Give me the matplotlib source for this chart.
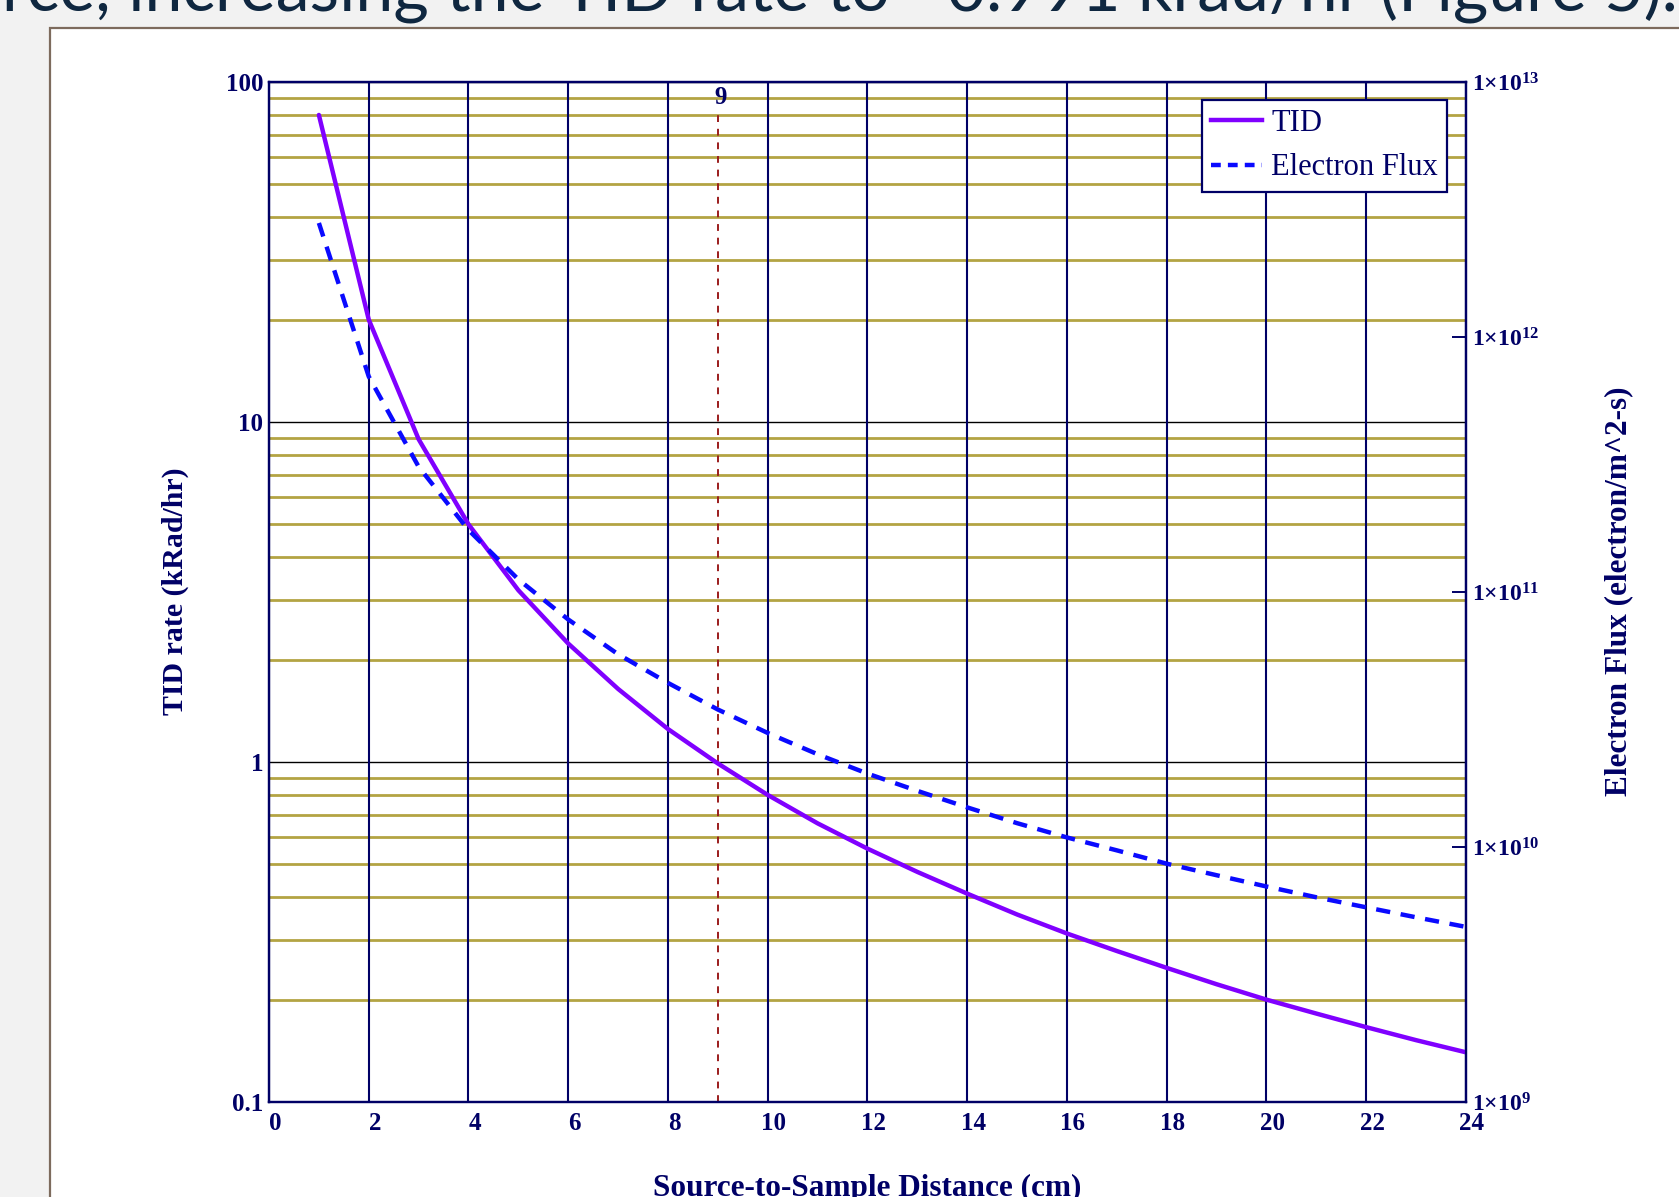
import numpy as np
import matplotlib
matplotlib.use('Agg')
import matplotlib.pyplot as plt
import matplotlib.transforms as mtransforms
from matplotlib.patches import Rectangle
from matplotlib.lines import Line2D
from matplotlib.ticker import LogLocator, NullFormatter, FixedLocator, FixedFormatter

# values
distance = [1, 2, 3, 4, 5, 6, 7, 8, 9, 10, 11, 12,
            13, 14, 15, 16, 17, 18, 19, 20, 21, 22, 23, 24]
tid_rate = [80, 20, 8.9, 5.0, 3.2, 2.23, 1.64, 1.25, 0.99, 0.80, 0.66, 0.556,
            0.475, 0.41, 0.356, 0.313, 0.278, 0.248, 0.222, 0.20, 0.182, 0.166, 0.152, 0.14]
electron_flux = [2.8e12, 7.0e11, 3.1e11, 1.75e11, 1.12e11, 7.8e10, 5.7e10, 4.4e10,
                 3.46e10, 2.8e10, 2.31e10, 1.94e10, 1.66e10, 1.43e10, 1.24e10, 1.09e10,
                 9.7e9, 8.6e9, 7.75e9, 7.0e9, 6.35e9, 5.8e9, 5.3e9, 4.86e9]
marker_x = 9

x_ticks = list(range(0, 25, 2))
y_ticks = [0.1, 1, 10, 100]
y_ticklabels = ['0.1', '1', '10', '100']
flux_ticks = [1e9, 1e10, 1e11, 1e12, 1e13]
flux_ticklabels = [r'$\mathbf{1{\times}10^{%d}}$' % e for e in [9, 10, 11, 12, 13]]

top_text = 'rce, increasing the TID rate to ~0.991 krad/hr (Figure 5).'

plt.rcParams['font.family'] = ['Liberation Serif', 'DejaVu Serif']
plt.rcParams['mathtext.fontset'] = 'custom'
plt.rcParams['mathtext.rm'] = 'Liberation Serif'
plt.rcParams['mathtext.bf'] = 'Liberation Serif:bold'

navy = '#000066'
olive = '#b3a443'
W, H = 1679, 1197

fig = plt.figure(figsize=(W / 100, H / 100), dpi=100, facecolor='#f2f2f2')

# white frame of the pasted picture
frame = Rectangle((50 / W, -0.05), 1.1, 1 - 28 / H + 0.05, transform=fig.transFigure,
                  facecolor='white', edgecolor='#7d6b5d', linewidth=1.6, zorder=0)
fig.add_artist(frame)

fig.text(2 / W, 1 - 12 / H, top_text, family=['Lato', 'DejaVu Sans'], fontsize=49,
         color='#0f2740', va='baseline', ha='left')

ax1 = fig.add_axes([269 / W, 1 - 1102 / H, (1466 - 269) / W, (1102 - 82) / H])
ax1.set_facecolor('white')
ax1.set_yscale('log')
ax1.set_xlim(0, 24)
ax1.set_ylim(0.1, 100)

ax1.xaxis.set_major_locator(FixedLocator(x_ticks))
ax1.set_xticklabels([str(t) for t in x_ticks])
ax1.yaxis.set_major_locator(FixedLocator(y_ticks))
ax1.yaxis.set_major_formatter(FixedFormatter(y_ticklabels))
ax1.yaxis.set_minor_locator(LogLocator(base=10, subs=range(2, 10)))
ax1.yaxis.set_minor_formatter(NullFormatter())
ax1.tick_params(which='both', length=0)
ax1.tick_params(axis='x', pad=7, labelsize=18, labelcolor=navy)
ax1.tick_params(axis='y', pad=4, labelsize=18, labelcolor=navy)
for lab in ax1.get_xticklabels() + ax1.get_yticklabels():
    lab.set_fontweight('bold')
offset = mtransforms.ScaledTranslation(6 / 100, 0, fig.dpi_scale_trans)
for lab in ax1.get_xticklabels():
    lab.set_transform(lab.get_transform() + offset)

ax1.grid(True, axis='x', which='major', color=navy, linewidth=1.5)
ax1.grid(True, axis='y', which='major', color='black', linewidth=1.0)
ax1.grid(True, axis='y', which='minor', color=olive, linewidth=2.0)
ax1.xaxis.set_zorder(1.6)
for sp in ax1.spines.values():
    sp.set_color(navy)
    sp.set_linewidth(1.6)

ax1.axvline(marker_x, ymax=0.973, color='#9b1c1c', linewidth=1.4, dashes=(3.5, 3.5), zorder=1.8)
ax1.text(marker_x + 0.06, 90, str(marker_x), color=navy, fontsize=18, fontweight='bold',
         ha='center', va='center')

ax1.plot(distance, tid_rate, color='#8000ff', linewidth=3.2, solid_capstyle='round', zorder=3)

ax2 = ax1.twinx()
ax2.set_yscale('log')
ax2.set_ylim(1e9, 1e13)
ax2.yaxis.set_major_locator(FixedLocator(flux_ticks))
ax2.yaxis.set_major_formatter(FixedFormatter(flux_ticklabels))
ax2.yaxis.set_minor_locator(matplotlib.ticker.NullLocator())
ax2.tick_params(axis='y', direction='in', length=10, width=1.4, color=navy, pad=4,
                labelsize=17, labelcolor=navy)
for sp in ax2.spines.values():
    sp.set_color(navy)
    sp.set_linewidth(1.6)
ax2.plot(distance, electron_flux, color='#0a0aff', linewidth=3.2, dashes=(3.2, 2.4), zorder=3)

handles = [Line2D([], [], color='#8000ff', linewidth=3.2),
           Line2D([], [], color='#0a0aff', linewidth=3.2, dashes=(2.2, 1.6))]
leg = ax2.legend(handles, ['TID', 'Electron Flux'], loc='upper right',
                 bbox_to_anchor=(0.9841, 0.9824), borderaxespad=0, fontsize=22,
                 handlelength=1.65, handletextpad=0.3, labelspacing=0.5, borderpad=0.3,
                 fancybox=False, framealpha=1, edgecolor=navy)
leg.get_frame().set_linewidth(1.6)
for t in leg.get_texts():
    t.set_color(navy)

fig.text(175 / W, 1 - 591 / H, 'TID rate (kRad/hr)', rotation=90, fontsize=21.5,
         fontweight='bold', color=navy, ha='center', va='center')
fig.text(1619 / W, 1 - 591 / H, 'Electron Flux (electron/m^2-s)', rotation=90, fontsize=22.5,
         fontweight='bold', color=navy, ha='center', va='center')
fig.text(867 / W, 1 - 1196 / H, 'Source-to-Sample Distance (cm)', fontsize=22.5,
         fontweight='bold', color=navy, ha='center', va='baseline')

fig.savefig('out.png', dpi=100, facecolor=fig.get_facecolor())
